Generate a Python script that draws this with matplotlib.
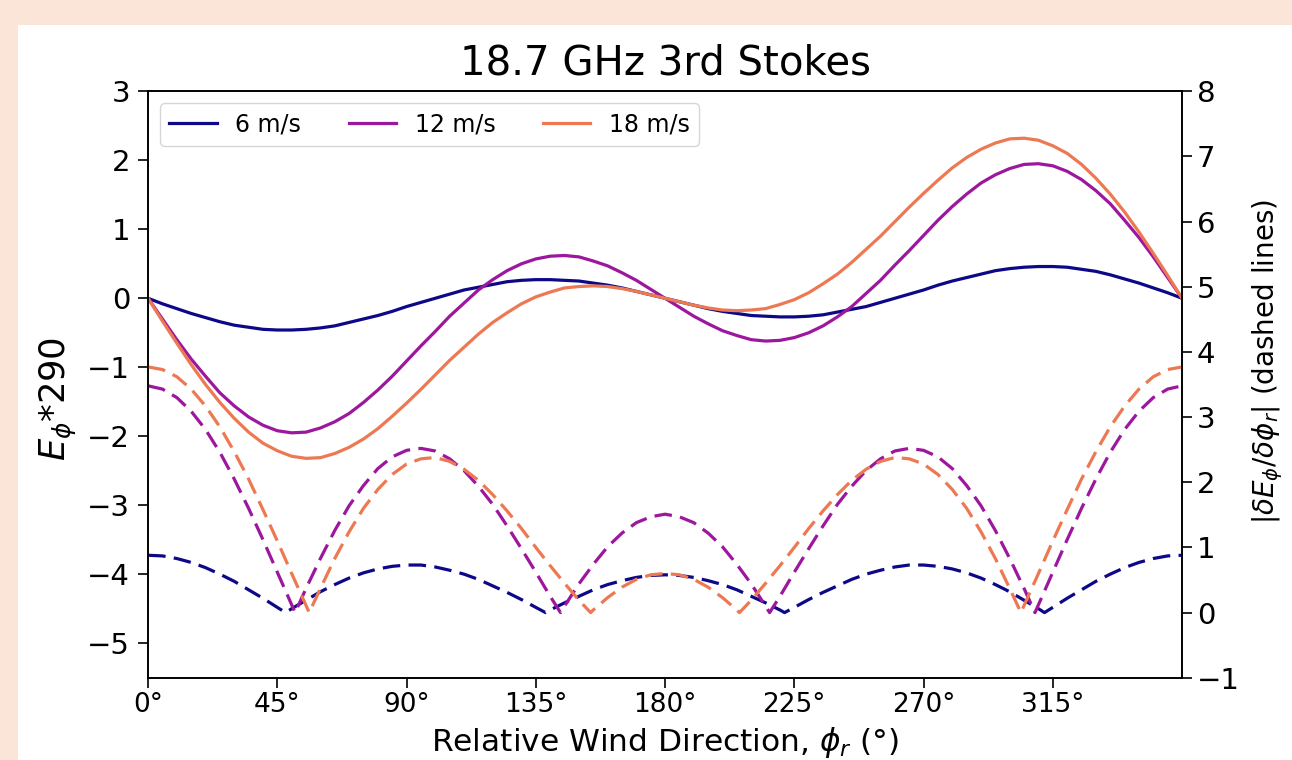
import numpy as np
import matplotlib.pyplot as plt
from matplotlib.patches import Rectangle

# ---------------------------
# Data (E_phi * 290, left axis), every 5 deg
# ---------------------------
phi = np.arange(0, 361, 5)

e_6 = [0.00, -0.08, -0.15, -0.22, -0.28, -0.34, -0.39, -0.42, -0.45, -0.46,
       -0.46, -0.45, -0.43, -0.40, -0.35, -0.30, -0.25, -0.19, -0.12, -0.06,
       0.00, 0.06, 0.12, 0.16, 0.20, 0.24, 0.26, 0.27, 0.27, 0.26,
       0.25, 0.22, 0.19, 0.15, 0.10, 0.05, 0.00,
       -0.05, -0.10, -0.15, -0.19, -0.22, -0.25, -0.26, -0.27, -0.27, -0.26,
       -0.24, -0.20, -0.16, -0.12, -0.06, 0.00, 0.06, 0.12, 0.19, 0.25,
       0.30, 0.35, 0.40, 0.43, 0.45, 0.46, 0.46, 0.45, 0.42, 0.39,
       0.34, 0.28, 0.22, 0.15, 0.08, 0.00]
e_12 = [0.00, -0.30, -0.60, -0.88, -1.13, -1.37, -1.56, -1.72, -1.84, -1.92,
        -1.95, -1.94, -1.88, -1.79, -1.67, -1.51, -1.33, -1.13, -0.91, -0.69,
        -0.48, -0.26, -0.07, 0.12, 0.27, 0.40, 0.50, 0.57, 0.61, 0.62,
        0.60, 0.54, 0.47, 0.37, 0.26, 0.13, 0.00,
        -0.13, -0.26, -0.37, -0.47, -0.54, -0.60, -0.62, -0.61, -0.57, -0.50,
        -0.40, -0.27, -0.12, 0.07, 0.26, 0.48, 0.69, 0.91, 1.13, 1.33,
        1.51, 1.67, 1.79, 1.88, 1.94, 1.95, 1.92, 1.84, 1.72, 1.56,
        1.37, 1.13, 0.88, 0.60, 0.30, 0.00]
e_18 = [0.00, -0.33, -0.65, -0.96, -1.25, -1.51, -1.74, -1.94, -2.10, -2.21,
        -2.29, -2.32, -2.31, -2.25, -2.16, -2.04, -1.89, -1.71, -1.52, -1.32,
        -1.11, -0.90, -0.71, -0.52, -0.35, -0.21, -0.08, 0.02, 0.09, 0.15,
        0.17, 0.18, 0.17, 0.14, 0.10, 0.05, 0.00,
        -0.05, -0.10, -0.14, -0.17, -0.18, -0.17, -0.15, -0.09, -0.02, 0.08,
        0.21, 0.35, 0.52, 0.71, 0.90, 1.11, 1.32, 1.52, 1.71, 1.89,
        2.04, 2.16, 2.25, 2.31, 2.32, 2.29, 2.21, 2.10, 1.94, 1.74,
        1.51, 1.25, 0.96, 0.65, 0.33, 0.00]

# ---------------------------
# |dE/dphi| (right axis, dashed) - 5 deg grid plus the zero points
# ---------------------------
zeros_6 = [47.9, 138.4, 221.6, 312.1]
zeros_12 = [51.2, 143.6, 216.4, 308.8]
zeros_18 = [56.1, 154.1, 205.9, 303.9]

d_6 = [0.88, 0.87, 0.83, 0.77, 0.69, 0.59, 0.48, 0.35, 0.22, 0.08, 0.00,
       0.06, 0.19, 0.32, 0.43, 0.53, 0.61, 0.67, 0.71, 0.73, 0.73, 0.70,
       0.65, 0.59, 0.51, 0.41, 0.31, 0.20, 0.08, 0.00, 0.04, 0.15, 0.25,
       0.35, 0.43, 0.49, 0.54, 0.57, 0.58,
       0.57, 0.54, 0.49, 0.43, 0.35, 0.25, 0.15, 0.04, 0.00, 0.08, 0.20,
       0.31, 0.41, 0.51, 0.59, 0.65, 0.70, 0.73, 0.73, 0.71, 0.67, 0.61,
       0.53, 0.43, 0.32, 0.19, 0.06, 0.00, 0.08, 0.22, 0.35, 0.48, 0.59,
       0.69, 0.77, 0.83, 0.87, 0.88]
d_12 = [3.48, 3.43, 3.30, 3.09, 2.81, 2.46, 2.05, 1.60, 1.12, 0.62, 0.12,
        0.00, 0.37, 0.83, 1.26, 1.64, 1.95, 2.21, 2.39, 2.49, 2.52, 2.48,
        2.36, 2.18, 1.94, 1.66, 1.33, 0.98, 0.62, 0.25, 0.00, 0.10, 0.44,
        0.74, 1.01, 1.22, 1.38, 1.47, 1.51,
        1.47, 1.38, 1.22, 1.01, 0.74, 0.44, 0.10, 0.00, 0.25, 0.62, 0.98,
        1.33, 1.66, 1.94, 2.18, 2.36, 2.48, 2.52, 2.49, 2.39, 2.21, 1.95,
        1.64, 1.26, 0.83, 0.37, 0.00, 0.12, 0.62, 1.12, 1.60, 2.05, 2.46,
        2.81, 3.09, 3.30, 3.43, 3.48]
d_18 = [3.77, 3.73, 3.62, 3.43, 3.17, 2.85, 2.47, 2.05, 1.58, 1.10, 0.60,
        0.11, 0.00, 0.37, 0.83, 1.24, 1.60, 1.89, 2.12, 2.28, 2.36, 2.38,
        2.32, 2.20, 2.03, 1.81, 1.56, 1.29, 1.00, 0.72, 0.45, 0.19, 0.00,
        0.04, 0.23, 0.39, 0.51, 0.58, 0.60,
        0.58, 0.51, 0.39, 0.23, 0.04, 0.00, 0.19, 0.45, 0.72, 1.00, 1.29,
        1.56, 1.81, 2.03, 2.20, 2.32, 2.38, 2.36, 2.28, 2.12, 1.89, 1.60,
        1.24, 0.83, 0.37, 0.00, 0.11, 0.60, 1.10, 1.58, 2.05, 2.47, 2.85,
        3.17, 3.43, 3.62, 3.73, 3.77]

labels = ['6 m/s', '12 m/s', '18 m/s']
colors = ['#0d0887', '#9c179e', '#ed7953']
x_ticks = [0, 45, 90, 135, 180, 225, 270, 315]

# ---------------------------
# Figure
# ---------------------------
fig = plt.figure(figsize=(12.92, 7.6), dpi=100, facecolor='#fbe4d8')
fig.add_artist(Rectangle((18 / 1292, 0), 1, 1 - 25 / 760, transform=fig.transFigure,
                         facecolor='white', edgecolor='none', zorder=0))
ax = fig.add_axes([0.1146, 0.1082, 0.8003, 0.7717])
ax2 = ax.twinx()

for e, lab, c in zip([e_6, e_12, e_18], labels, colors):
    ax.plot(phi, e, color=c, lw=2.3, label=lab)
for z, d, c in zip([zeros_6, zeros_12, zeros_18], [d_6, d_12, d_18], colors):
    p = np.sort(np.concatenate([phi, z]))
    ax2.plot(p, d, color=c, lw=2.3, linestyle=(0, (5.5, 2.6)))

ax.set_xlim(0, 360)
ax.set_ylim(-5.5, 3)
ax2.set_ylim(-1, 8)
ax.set_xticks(x_ticks)
ax.set_xticklabels([f'{v}°' for v in x_ticks])
ax.set_yticks(range(-5, 4))
ax2.set_yticks(range(-1, 9))
ax.tick_params(length=7, width=1.2)
ax.tick_params(axis='x', labelsize=19)
ax.tick_params(axis='y', labelsize=21, pad=6)
ax2.tick_params(labelsize=21, length=7, width=1.2)
for s in list(ax.spines.values()) + list(ax2.spines.values()):
    s.set_linewidth(1.2)

ax.set_title('18.7 GHz 3rd Stokes', fontsize=29, pad=12)
ax.set_xlabel(r'Relative Wind Direction, $\phi_r$ (°)', fontsize=22.5, labelpad=5)
ax.set_ylabel(r'$E_\phi$*290', fontsize=25.5)
ax.yaxis.set_label_coords(-0.067, 0.475)
ax2.set_ylabel(r'$|\delta E_\phi/\delta\phi_r|$ (dashed lines)', fontsize=20)
ax2.yaxis.set_label_coords(1.066, 0.54)
ax.legend(loc='upper left', ncol=3, fontsize=17)

fig.savefig('out.png', dpi=100, facecolor=fig.get_facecolor())
